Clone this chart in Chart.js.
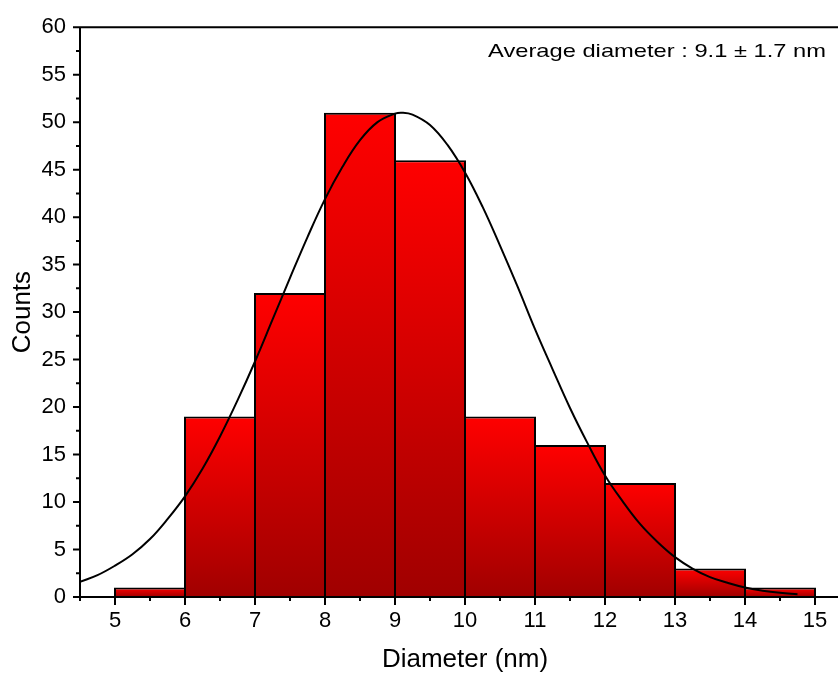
<!DOCTYPE html>
<html>
<head>
<meta charset="utf-8">
<script src="https://cdn.jsdelivr.net/npm/chart.js@4"></script>
<style>
  html, body { margin: 0; padding: 0; background: #fff; overflow: hidden; width: 838px; height: 673px; }
  #c { display: block; }
</style>
</head>
<body>
<canvas id="c" width="860" height="673" style="width:860px;height:673px"></canvas>
<script>
// ---- data ----
const binCenters = [5.5, 6.5, 7.5, 8.5, 9.5, 10.5, 11.5, 12.5, 13.5, 14.5]; // bins of width 1 nm
const counts     = [1, 19, 32, 51, 46, 19, 16, 12, 3, 1];
const curveX = [4.5, 4.75, 5, 5.25, 5.5, 5.75, 6, 6.25, 6.5, 6.75, 7, 7.25, 7.5, 7.75, 8, 8.25, 8.5, 8.75,
                9, 9.1, 9.25, 9.5, 9.75, 10, 10.25, 10.5, 10.75, 11, 11.25, 11.5, 11.75, 12, 12.25, 12.5, 12.75,
                13, 13.25, 13.5, 13.75, 14, 14.25, 14.5, 14.75];
const curveY = [1.6, 2.3, 3.3, 4.5, 6.1, 8.2, 10.6, 13.5, 16.9, 20.7, 24.8, 29.2, 33.6, 37.9, 41.9, 45.3, 48.1, 50.0,
                50.9, 51.0, 50.8, 49.7, 47.6, 44.7, 41.1, 37.0, 32.7, 28.2, 24.0, 19.9, 16.2, 12.8, 10.1, 7.7, 5.8,
                4.2, 3.0, 2.1, 1.5, 1.0, 0.67, 0.44, 0.28];
const xTickValues = [5, 6, 7, 8, 9, 10, 11, 12, 13, 14, 15];
const xTitle = 'Diameter (nm)';
const yTitle = 'Counts';
const annotation = 'Average diameter : 9.1 ± 1.7 nm';

const FONT = "'Liberation Sans', Arial, sans-serif";
Chart.defaults.color = '#000';
Chart.defaults.font.family = FONT;

const framePlugin = {
  id: 'frame',
  afterDraw(chart) {
    const {ctx, chartArea: a, scales} = chart;
    const xs = scales.x, ys = scales.y;
    ctx.save();
    ctx.strokeStyle = '#000';
    ctx.lineWidth = 2;
    ctx.lineCap = 'butt';
    ctx.beginPath();
    ctx.moveTo(a.left, a.top); ctx.lineTo(a.right, a.top);
    ctx.moveTo(a.right, a.top); ctx.lineTo(a.right, a.bottom);
    ctx.moveTo(a.left - 1, a.bottom); ctx.lineTo(a.right + 1, a.bottom);
    ctx.moveTo(a.left, a.top - 1); ctx.lineTo(a.left, a.bottom + 1);
    for (let v = ys.min; v <= ys.max + 1e-9; v += 2.5) {
      const y = ys.getPixelForValue(v);
      const major = Math.abs(v / 5 - Math.round(v / 5)) < 1e-6;
      ctx.moveTo(a.left, y); ctx.lineTo(a.left - (major ? 7 : 4), y);
    }
    for (let v = xs.min; v <= xs.max + 1e-9; v += 0.5) {
      const x = xs.getPixelForValue(v);
      const major = Math.abs(v - Math.round(v)) < 1e-6;
      ctx.moveTo(x, a.bottom); ctx.lineTo(x, a.bottom + (major ? 8 : 4));
    }
    ctx.stroke();
    // annotation (reference text is slightly wide, so stretch horizontally)
    ctx.fillStyle = '#000';
    ctx.font = '19px ' + FONT;
    ctx.textAlign = 'right';
    ctx.textBaseline = 'alphabetic';
    const w = ctx.measureText(annotation).width;
    const sx = 338 / w;
    ctx.translate(826, 57);
    ctx.scale(sx, 1);
    ctx.fillText(annotation, 0, 0);
    ctx.restore();
  }
};

function barGradient(context) {
  const chart = context.chart;
  const {ctx, chartArea, scales} = chart;
  if (!chartArea || context.type !== 'data' || !scales.y) return '#d00000';
  const v = context.raw.y;
  const top = scales.y.getPixelForValue(v);
  const bot = scales.y.getPixelForValue(0);
  if (!isFinite(top) || !isFinite(bot) || bot - top < 1) return '#ff0000';
  const g = ctx.createLinearGradient(0, top, 0, bot);
  g.addColorStop(0, '#ff0000');
  g.addColorStop(1, '#a00000');
  return g;
}

new Chart(document.getElementById('c'), {
  data: {
    datasets: [
      {
        type: 'line',
        order: 0,
        data: curveX.map((x, i) => ({x, y: curveY[i]})),
        borderColor: '#000',
        borderWidth: 2,
        pointRadius: 0,
        tension: 0.4,
        fill: false
      },
      {
        type: 'bar',
        order: 1,
        data: binCenters.map((x, i) => ({x, y: counts[i]})),
        backgroundColor: barGradient,
        borderColor: '#000',
        borderWidth: 2,
        borderSkipped: 'start',
        barPercentage: 1.0286,
        categoryPercentage: 1
      }
    ]
  },
  options: {
    responsive: false,
    animation: false,
    layout: { padding: { top: 25, right: 10, left: 0, bottom: 0 } },
    plugins: { legend: { display: false }, tooltip: { enabled: false } },
    scales: {
      x: {
        type: 'linear',
        min: 4.5, max: 15.5,
        offset: false,
        grid: { display: false, drawTicks: false },
        border: { display: false },
        ticks: { padding: 11, font: { size: 22 }, color: '#000' },
        afterBuildTicks(scale) { scale.ticks = xTickValues.map(v => ({value: v})); },
        title: { display: true, text: xTitle, font: { size: 26, lineHeight: 1 }, padding: { top: 0, bottom: 0 }, color: '#000' },
        afterFit(scale) { scale.height = 76; }
      },
      y: {
        type: 'linear',
        min: 0, max: 60,
        grid: { display: false, drawTicks: false },
        border: { display: false },
        ticks: { stepSize: 5, padding: 14, font: { size: 22 }, color: '#000' },
        title: { display: true, text: yTitle, font: { size: 26, lineHeight: 1 }, padding: { top: 10, bottom: 0 }, color: '#000' },
        afterFit(scale) { scale.width = 80; }
      }
    }
  },
  plugins: [framePlugin]
});
</script>
</body>
</html>
